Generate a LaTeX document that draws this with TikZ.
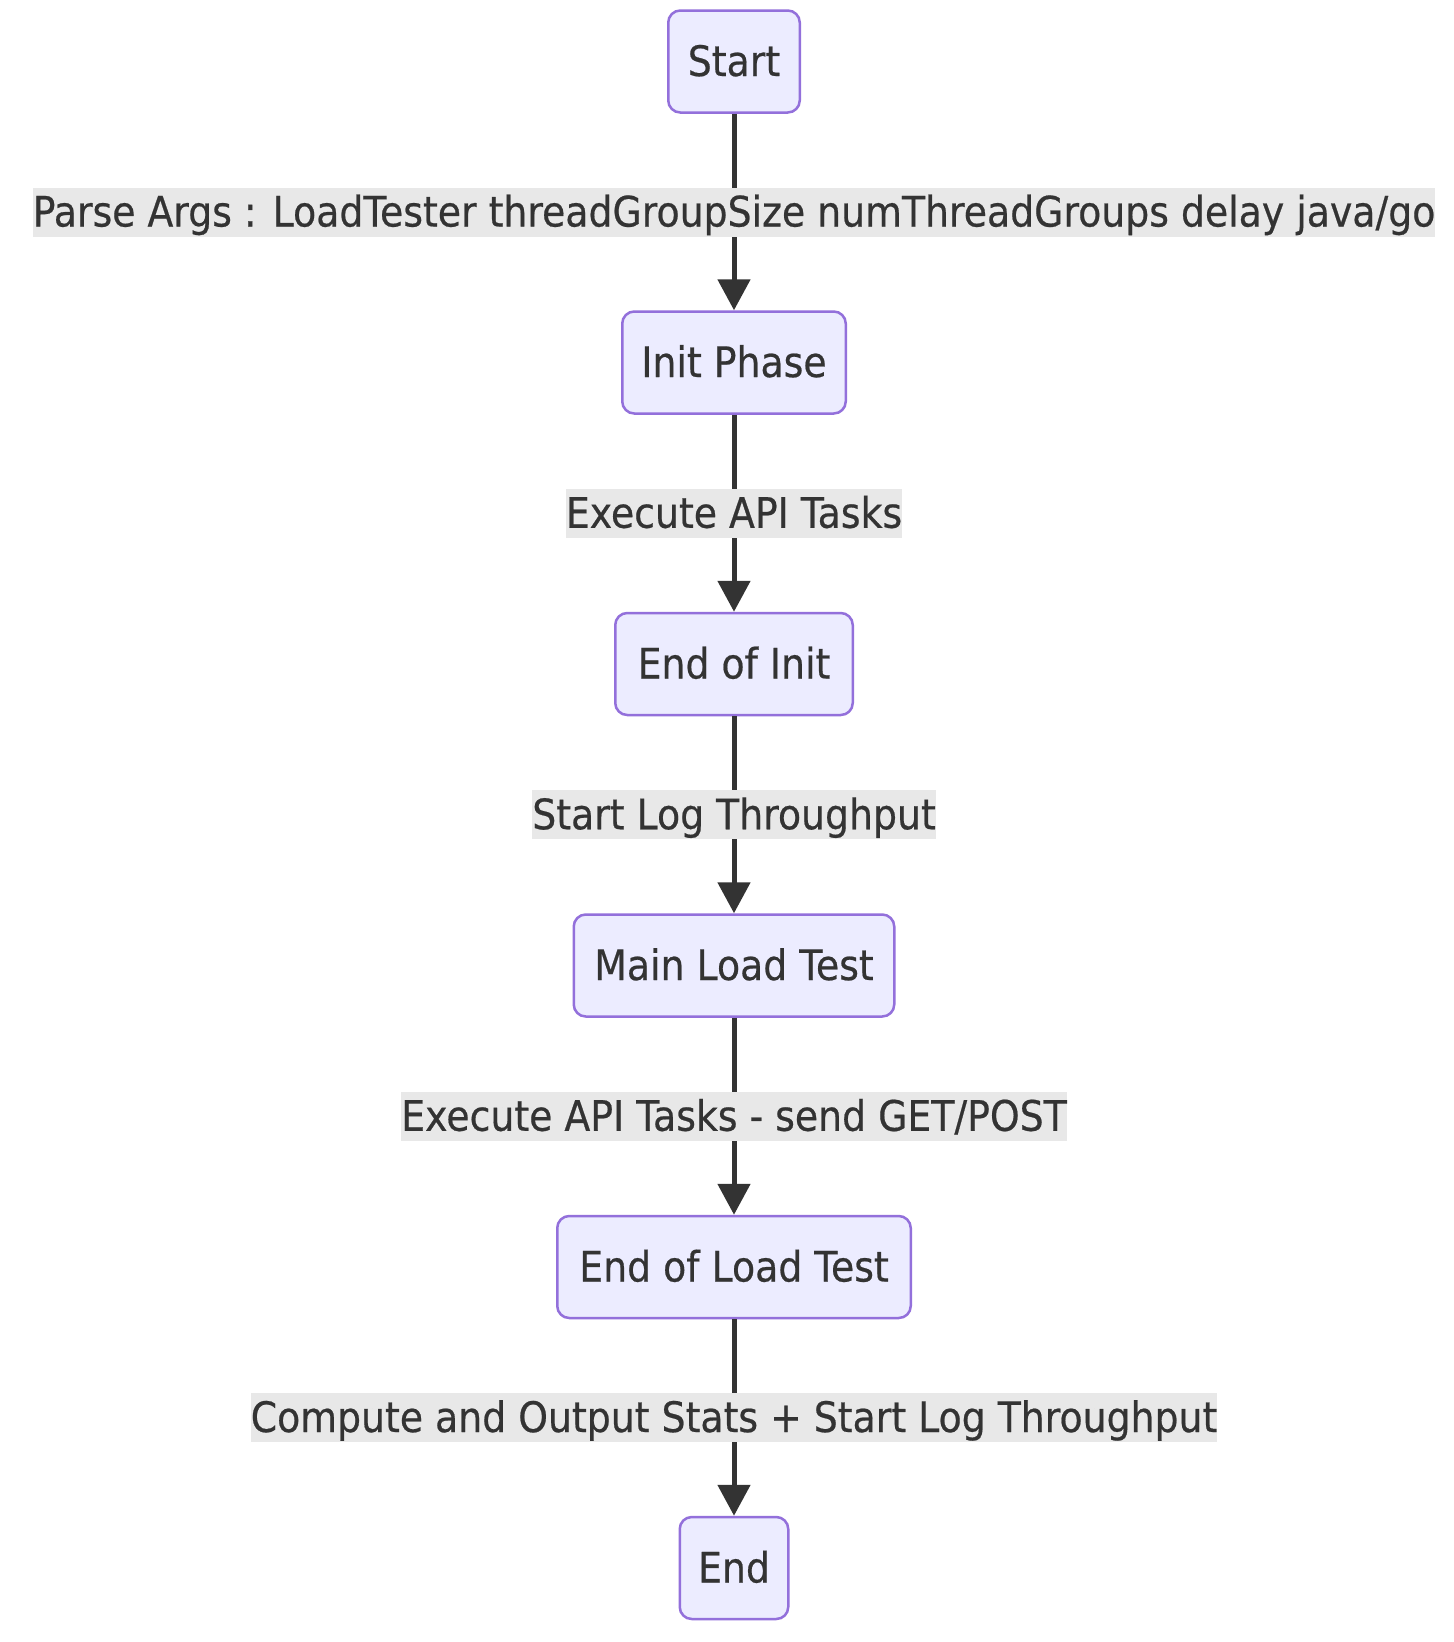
\documentclass[tikz,border=0pt]{standalone}
\usepackage{fontspec}
\setmainfont{DejaVu Sans}[FakeStretch=0.9,FakeBold=0.5]
\usetikzlibrary{arrows.meta}
\definecolor{nodefill}{HTML}{ECECFF}
\definecolor{nodeline}{HTML}{9370DB}
\definecolor{edgecol}{HTML}{333333}
\definecolor{lblbg}{HTML}{E8E8E8}
\definecolor{txtcol}{HTML}{333333}
\begin{document}
\begin{tikzpicture}[x=1pt,y=-1pt,
  box/.style={draw=nodeline, fill=nodefill, line width=2.5pt, rounded corners=12pt,
    minimum height=102pt, inner xsep=18pt, inner ysep=0pt,
    text height=39pt, text depth=10pt, text=txtcol, font=\fontsize{42}{50}\selectfont},
  flow/.style={draw=edgecol, line width=5pt, -{Triangle[length=31pt,width=32pt]}},
  lbl/.style={fill=lblbg, inner sep=0pt, text height=39pt, text depth=10pt,
    text=txtcol, font=\fontsize{42}{50}\selectfont}]
\fill[white] (0,0) rectangle (1454,1642);
\useasboundingbox (0,0) rectangle (1454,1642);
\node[box, minimum width=131.5pt] (start) at (734,61.5) {Start};
\node[box, minimum width=223.5pt] (init) at (734,362.5) {Init Phase};
\node[box, minimum width=237.5pt] (endinit) at (734,664) {End of Init};
\node[box, minimum width=320.5pt] (main) at (734,965.5) {Main Load Test};
\node[box, minimum width=353.5pt] (endload) at (734,1267) {End of Load Test};
\node[box, minimum width=108.5pt] (finish) at (734,1568) {End};
\draw[flow] (start) -- node[lbl] (l1) {Parse Args : LoadTester threadGroupSize numThreadGroups delay java/go} (init);
\draw[flow] (init) -- node[lbl] (l2) {Execute API Tasks} (endinit);
\draw[flow] (endinit) -- node[lbl] (l3) {Start Log Throughput} (main);
\draw[flow] (main) -- node[lbl] (l4) {Execute API Tasks - send GET/POST} (endload);
\draw[flow] (endload) -- node[lbl] (l5) {Compute and Output Stats + Start Log Throughput} (finish);
\end{tikzpicture}
\end{document}
